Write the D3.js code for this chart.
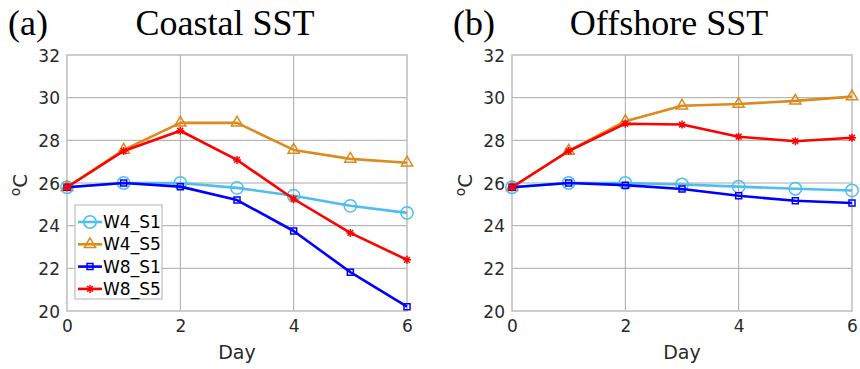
<!DOCTYPE html>
<html>
<head>
<meta charset="utf-8">
<script src="https://cdn.jsdelivr.net/npm/d3@7"></script>
<style>
  html, body { margin: 0; padding: 0; background: #fff; }
  svg { display: block; }
</style>
</head>
<body>
<svg id="chart" width="860" height="369"></svg>
<script>
// Days along the x axis
const days = [0, 1, 2, 3, 4, 5, 6];
const xTicks = [0, 2, 4, 6];
const yTicks = [20, 22, 24, 26, 28, 30, 32];

const seriesNames = ["W4_S1", "W4_S5", "W8_S1", "W8_S5"];
const seriesColors = ["#4dbeee", "#dd8a1d", "#0000ff", "#ff0000"];
const seriesMarkers = ["circle", "triangle", "square", "asterisk"];

// Coastal SST (°C)
const coastalW4S1 = [25.8, 26.0, 26.0, 25.77, 25.4, 24.93, 24.6];
const coastalW4S5 = [25.8, 27.55, 28.82, 28.82, 27.55, 27.13, 26.95];
const coastalW8S1 = [25.8, 26.0, 25.83, 25.2, 23.75, 21.82, 20.2];
const coastalW8S5 = [25.8, 27.5, 28.45, 27.08, 25.25, 23.66, 22.4];

// Offshore SST (°C)
const offshoreW4S1 = [25.8, 26.0, 26.0, 25.93, 25.83, 25.73, 25.65];
const offshoreW4S5 = [25.8, 27.5, 28.9, 29.62, 29.7, 29.85, 30.05];
const offshoreW8S1 = [25.8, 26.0, 25.9, 25.72, 25.4, 25.17, 25.06];
const offshoreW8S5 = [25.8, 27.5, 28.78, 28.74, 28.17, 27.96, 28.12];

const panels = [
  { tag: "(a)", title: "Coastal SST", left: 67, tagX: 8, titleX: 225,
    series: [coastalW4S1, coastalW4S5, coastalW8S1, coastalW8S5], legend: true },
  { tag: "(b)", title: "Offshore SST", left: 512, tagX: 453, titleX: 669,
    series: [offshoreW4S1, offshoreW4S5, offshoreW8S1, offshoreW8S5], legend: false }
];

const svg = d3.select("#chart");
const plotW = 340, plotTop = 55, plotBottom = 311;
const tickFont = "'DejaVu Sans', sans-serif";
const titleFont = "'Liberation Serif', 'Times New Roman', serif";

function drawMarker(g, kind, color, x, y) {
  if (kind === "asterisk") {
    const r = 4;
    const p = d3.path();
    p.moveTo(x - r, y); p.lineTo(x + r, y);
    p.moveTo(x, y - r); p.lineTo(x, y + r);
    const d = r * 0.72;
    p.moveTo(x - d, y - d); p.lineTo(x + d, y + d);
    p.moveTo(x - d, y + d); p.lineTo(x + d, y - d);
    g.append("path").attr("d", p.toString())
      .attr("stroke", color).attr("stroke-width", 1.5).attr("fill", "none");
    return;
  }
  const type = kind === "circle" ? d3.symbolCircle
             : kind === "triangle" ? d3.symbolTriangle
             : d3.symbolSquare;
  const size = kind === "circle" ? 120 : kind === "triangle" ? 55 : 36;
  g.append("path")
    .attr("d", d3.symbol().type(type).size(size)())
    .attr("transform", `translate(${x},${y})`)
    .attr("fill", "none").attr("stroke", color).attr("stroke-width", 1.5);
}

panels.forEach(panel => {
  const x = d3.scaleLinear().domain([0, 6]).range([panel.left, panel.left + plotW]);
  const y = d3.scaleLinear().domain([20, 32]).range([plotBottom, plotTop]);
  const g = svg.append("g");

  // grid
  g.append("g").selectAll("line").data(xTicks.slice(1, -1)).join("line")
    .attr("x1", d => x(d)).attr("x2", d => x(d)).attr("y1", plotTop).attr("y2", plotBottom)
    .attr("stroke", "#a8a8a8").attr("stroke-width", 1);
  g.append("g").selectAll("line").data(yTicks.slice(1, -1)).join("line")
    .attr("y1", d => y(d)).attr("y2", d => y(d)).attr("x1", x(0)).attr("x2", x(6))
    .attr("stroke", "#a8a8a8").attr("stroke-width", 1);

  // frame
  g.append("rect").attr("x", x(0)).attr("y", plotTop)
    .attr("width", x(6) - x(0)).attr("height", plotBottom - plotTop)
    .attr("fill", "none").attr("stroke", "#bdbdbd").attr("stroke-width", 1.5);

  // axes (labels only)
  const yAxis = g.append("g").attr("transform", `translate(${x(0) - 7},0)`)
    .call(d3.axisLeft(y).tickValues(yTicks).tickFormat(d3.format("d")).tickSize(0).tickPadding(0));
  yAxis.select(".domain").remove();
  yAxis.selectAll("text").attr("font-family", tickFont).attr("font-size", 17)
    .attr("fill", "#2a2a2a").attr("dy", "0.36em");

  const xAxis = g.append("g").attr("transform", `translate(0,${plotBottom + 7})`)
    .call(d3.axisBottom(x).tickValues(xTicks).tickFormat(d3.format("d")).tickSize(0).tickPadding(0));
  xAxis.select(".domain").remove();
  xAxis.selectAll("text").attr("font-family", tickFont).attr("font-size", 17)
    .attr("fill", "#2a2a2a").attr("dy", "0.85em");

  // axis titles
  g.append("text").attr("x", (x(0) + x(6)) / 2).attr("y", 359)
    .attr("text-anchor", "middle").attr("font-family", tickFont)
    .attr("font-size", 19).attr("fill", "#2a2a2a").text("Day");

  const yl = g.append("text")
    .attr("transform", `translate(${x(0) - 40},${(plotTop + plotBottom) / 2 + 2}) rotate(-90)`)
    .attr("text-anchor", "middle").attr("font-family", tickFont)
    .attr("font-size", 20).attr("fill", "#2a2a2a");
  yl.append("tspan").attr("font-size", 14).attr("dy", "-0.5em").text("o");
  yl.append("tspan").attr("dy", "0.35em").text("C");

  // titles
  svg.append("text").attr("x", panel.tagX).attr("y", 35)
    .attr("font-family", titleFont).attr("font-size", 36).attr("fill", "#000").text(panel.tag);
  svg.append("text").attr("x", panel.titleX).attr("y", 35)
    .attr("text-anchor", "middle")
    .attr("font-family", titleFont).attr("font-size", 36).attr("fill", "#000").text(panel.title);

  // series
  const line = d3.line().x((d, i) => x(days[i])).y(d => y(d));
  panel.series.forEach((vals, si) => {
    const sg = g.append("g");
    sg.append("path").datum(vals).attr("d", line)
      .attr("fill", "none").attr("stroke", seriesColors[si])
      .attr("stroke-width", 2.6).attr("stroke-linejoin", "round");
    vals.forEach((v, i) => drawMarker(sg, seriesMarkers[si], seriesColors[si], x(days[i]), y(v)));
  });

  // legend
  if (panel.legend) {
    const lg = g.append("g");
    lg.append("rect").attr("x", 75).attr("y", 205).attr("width", 87).attr("height", 94)
      .attr("fill", "#fff").attr("stroke", "#bdbdbd").attr("stroke-width", 1.2);
    seriesNames.forEach((name, si) => {
      const cy = 222 + si * 22.3;
      lg.append("line").attr("x1", 78).attr("x2", 102).attr("y1", cy).attr("y2", cy)
        .attr("stroke", seriesColors[si]).attr("stroke-width", 2.6);
      drawMarker(lg, seriesMarkers[si], seriesColors[si], 90, cy);
      lg.append("text").attr("x", 103).attr("y", cy).attr("dy", "0.36em")
        .attr("font-family", tickFont).attr("font-size", 17).attr("fill", "#000")
        .text(name);
    });
  }
});
</script>
</body>
</html>
